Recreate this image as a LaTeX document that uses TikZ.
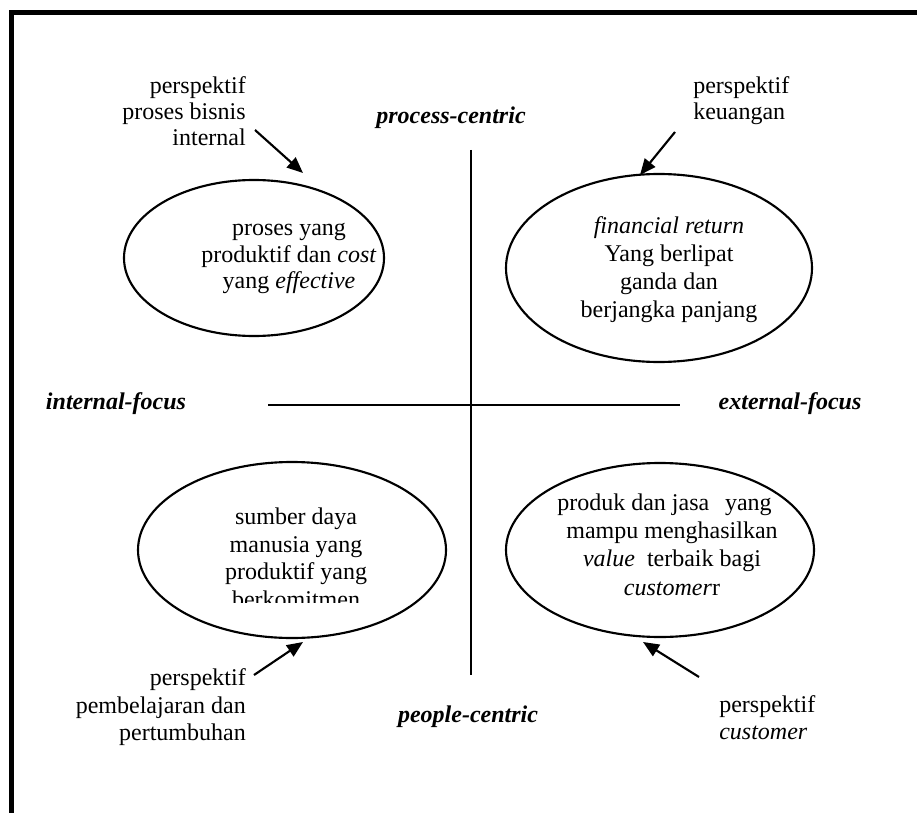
\documentclass[tikz,border=0pt]{standalone}
\usepackage{fontspec}
\setmainfont{Liberation Serif}
\usetikzlibrary{shapes.geometric,arrows.meta}
\begin{document}
\begin{tikzpicture}[x=0.75pt,y=-0.75pt,
  txt/.style={inner sep=0pt, font=\fontsize{18}{21}\selectfont},
  head/.style={txt, font=\fontsize{18}{21}\selectfont\bfseries\itshape},
  oval/.style={draw, ellipse, line width=1.6pt, inner sep=0pt},
  axis/.style={line width=1.5pt},
  pointer/.style={line width=1.6pt, -{Triangle[length=12pt,width=10pt]}}]
\useasboundingbox (0,0) rectangle (917,813);

% frame (top and left edges only)
\draw[line width=3.5pt, line join=miter] (917,12.5) -- (11.5,12.5) -- (11.5,813);

% axes
\coordinate (vtop) at (471,150);
\coordinate (vbot) at (471,675);
\coordinate (hleft) at (268,405);
\coordinate (hright) at (680,405);
\draw[axis] (vtop) -- (vbot);
\draw[axis] (hleft) -- (hright);

% axis captions
\node[head, anchor=base] (pc) at (451,124) {process-centric};
\node[head, anchor=base] (ppl) at (468,722) {people-centric};
\node[head, anchor=base] (inf) at (116,409) {internal-focus};
\node[head, anchor=base] (exf) at (790,409) {external-focus};

% four ovals
\node[oval, minimum width=195pt, minimum height=117pt] (tle) at (254,258) {};
\node[oval, minimum width=229.5pt, minimum height=141pt] (tre) at (659,268) {};
\node[oval, minimum width=231pt, minimum height=132pt] (ble) at (292,550) {};
\node[oval, minimum width=231pt, minimum height=130.5pt] (bre) at (660,550) {};

% text inside the ovals
\node[txt, anchor=base] (tl1) at (289,235) {proses yang};
\node[txt, anchor=base] (tl2) at (289,262) {produktif dan \textit{cost}};
\node[txt, anchor=base] (tl3) at (289,288) {yang \textit{effective}};

\node[txt, anchor=base] (tr1) at (669,233) {\textit{financial return}};
\node[txt, anchor=base] (tr2) at (669,261) {Yang berlipat};
\node[txt, anchor=base] (tr3) at (669,289) {ganda dan};
\node[txt, anchor=base] (tr4) at (669,317) {berjangka panjang};

\begin{scope}
  \clip (140,470) rectangle (450,602);
  \node[txt, anchor=base] (bl1) at (296,524) {sumber daya};
  \node[txt, anchor=base] (bl2) at (296,552) {manusia yang};
  \node[txt, anchor=base] (bl3) at (296,579) {produktif yang};
  \node[txt, anchor=base] (bl4) at (296,607) {berkomitmen};
\end{scope}

\node[txt, anchor=base west] (br1a) at (557,510) {produk dan jasa};
\node[txt, anchor=base east] (br1b) at (772,510) {yang};
\node[txt, anchor=base] (br2) at (672,538) {mampu menghasilkan};
\node[txt, anchor=base] (br3) at (672,566) {\textit{value}\ \ terbaik bagi};
\node[txt, anchor=base] (br4) at (672,595) {\textit{customer}r};

% perspective labels
\node[txt, anchor=base east] (la1) at (246,94) {perspektif};
\node[txt, anchor=base east] (la2) at (246,120) {proses bisnis};
\node[txt, anchor=base east] (la3) at (246,146) {internal};

\node[txt, anchor=base west] (lb1) at (693,94) {perspektif};
\node[txt, anchor=base west] (lb2) at (693,120) {keuangan};

\node[txt, anchor=base east] (lc1) at (246,685) {perspektif};
\node[txt, anchor=base east] (lc2) at (246,713) {pembelajaran dan};
\node[txt, anchor=base east] (lc3) at (246,740) {pertumbuhan};

\node[txt, anchor=base west] (ld1) at (719,712) {perspektif};
\node[txt, anchor=base west] (ld2) at (719,739) {\textit{customer}};

% pointers from labels to ovals
\coordinate (pa) at (255,130);  \coordinate (qa) at (303,173);
\coordinate (pb) at (675,132);  \coordinate (qb) at (640,175);
\coordinate (pc0) at (254,675); \coordinate (qc) at (303,642);
\coordinate (pd) at (699,677);  \coordinate (qd) at (643,642);
\draw[pointer] (pa) -- (qa);
\draw[pointer] (pb) -- (qb);
\draw[pointer] (pc0) -- (qc);
\draw[pointer] (pd) -- (qd);
\end{tikzpicture}
\end{document}
